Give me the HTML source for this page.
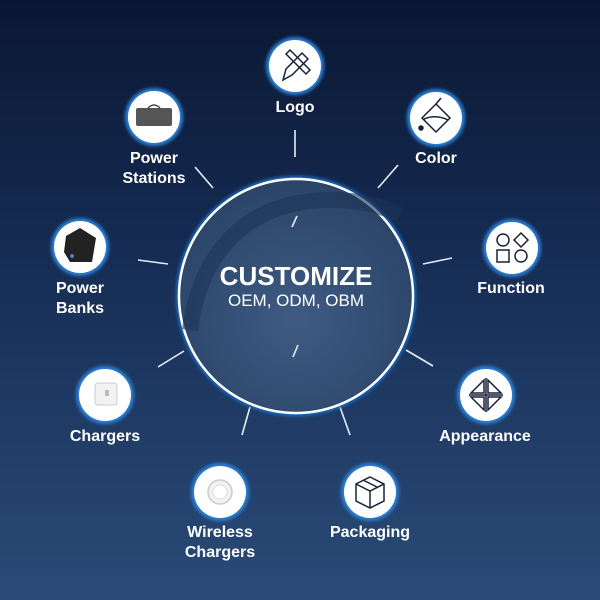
<!DOCTYPE html>
<html><head><meta charset="utf-8"><style>
html,body{margin:0;padding:0;width:600px;height:600px;overflow:hidden}
body{background:linear-gradient(180deg,#0a1733 0%,#152b52 40%,#2a4b78 100%)}
text{font-family:"Liberation Sans",sans-serif;fill:#fff}
</style></head><body>
<svg width="600" height="600" viewBox="0 0 600 600" xmlns="http://www.w3.org/2000/svg">
<defs>
<radialGradient id="cg" cx="50%" cy="60%" r="60%"><stop offset="0" stop-color="#3e5b82"/><stop offset="1" stop-color="#2b4468"/></radialGradient>
<filter id="gl" x="-30%" y="-30%" width="160%" height="160%"><feGaussianBlur stdDeviation="1.5"/></filter>
</defs>
<!-- ticks -->
<g stroke="#e8eef7" stroke-width="1.6">
<line x1="295" y1="130" x2="295" y2="157"/>
<line x1="378" y1="188" x2="398" y2="165"/>
<line x1="423" y1="264" x2="452" y2="258"/>
<line x1="406" y1="350" x2="433" y2="366"/>
<line x1="340" y1="407" x2="350" y2="435"/>
<line x1="250" y1="407" x2="242" y2="435"/>
<line x1="184" y1="351" x2="158" y2="367"/>
<line x1="138" y1="260" x2="168" y2="264"/>
<line x1="195" y1="167" x2="213" y2="188"/>
</g>
<!-- center circle -->
<circle cx="296" cy="296" r="120" fill="#1e6fc4" filter="url(#gl)"/>
<circle cx="296" cy="296" r="117" fill="url(#cg)" stroke="#fff" stroke-width="2.5"/>
<path d="M190 330 C200 250 250 200 330 200 C360 200 380 205 400 215" stroke="#1c3357" stroke-width="16" fill="none" opacity="0.6"/>
<g stroke="#e8eef7" stroke-width="1.6"><line x1="297" y1="216" x2="292" y2="227"/><line x1="298" y1="345" x2="293" y2="357"/></g>
<text x="296" y="285" text-anchor="middle" font-size="26" font-weight="bold">CUSTOMIZE</text>
<text x="296" y="306" text-anchor="middle" font-size="17">OEM, ODM, OBM</text>
<!-- icon circles -->
<g>
<g fill="#2a7fd6" filter="url(#gl)">
<circle cx="295" cy="66" r="29"/><circle cx="436" cy="118" r="29"/><circle cx="512" cy="248" r="29"/>
<circle cx="486" cy="395" r="29"/><circle cx="370" cy="492" r="29"/><circle cx="220" cy="492" r="29"/>
<circle cx="105" cy="395" r="29"/><circle cx="80" cy="247" r="29"/><circle cx="154" cy="117" r="29"/>
</g>
<g fill="#fff">
<circle cx="295" cy="66" r="26"/><circle cx="436" cy="118" r="26"/><circle cx="512" cy="248" r="26"/>
<circle cx="486" cy="395" r="26"/><circle cx="370" cy="492" r="26"/><circle cx="220" cy="492" r="26"/>
<circle cx="105" cy="395" r="26"/><circle cx="80" cy="247" r="26"/><circle cx="154" cy="117" r="26"/>
</g>
</g>
<!-- icons -->
<g stroke="#1a2238" stroke-width="1.5" fill="none">
<!-- logo -->
<path d="M283 80 L286 69 L302 53 L308 59 L292 75 Z"/><path d="M286 54 L290 50 L310 70 L306 74 Z"/>
<!-- color -->
<path d="M436 104 L450 118 L436 132 L422 118 Z"/><path d="M424 119 Q436 114 448 120"/><line x1="436" y1="104" x2="441" y2="98"/>
<circle cx="421" cy="128" r="2" fill="#1a2238"/>
<!-- function -->
<circle cx="503" cy="240" r="6"/><path d="M521 233 L528 240 L521 247 L514 240 Z"/><rect x="497" y="250" width="12" height="12"/><circle cx="521" cy="256" r="6"/>
<!-- appearance -->
<path d="M486 378 L486 412 M469 395 L503 395"/><path d="M484 380 L471 393 L484 393 Z M488 380 L501 393 L488 393 Z M484 410 L471 397 L484 397 Z M488 410 L501 397 L488 397 Z"/>
<!-- packaging -->
<path d="M370 477 L384 484 L384 501 L370 508 L356 501 L356 484 Z"/><path d="M356 484 L370 491 L384 484 M370 491 L370 508"/><path d="M363 480 L377 487"/>
</g>
<!-- product icons -->
<rect x="136" y="108" width="36" height="18" rx="2" fill="#555"/><path d="M148 108 Q154 102 160 108" stroke="#444" fill="none" stroke-width="1.5"/>
<path d="M66 236 L80 228 L96 238 L92 262 L70 262 L64 252 Z" fill="#222"/><circle cx="72" cy="256" r="2" fill="#4a7fd0"/>
<rect x="95" y="383" width="22" height="22" rx="3" fill="#f2f2f2" stroke="#ccc"/><rect x="105" y="390" width="4" height="6" fill="#bbb"/>
<circle cx="220" cy="492" r="12" fill="#f2f2f2" stroke="#ccc" stroke-width="1.5"/><circle cx="220" cy="492" r="7" fill="#fff" stroke="#ddd"/>
<!-- labels -->
<g font-size="16" font-weight="bold" text-anchor="middle">
<text x="295" y="112">Logo</text>
<text x="436" y="163">Color</text>
<text x="511" y="293">Function</text>
<text x="485" y="441">Appearance</text>
<text x="370" y="537">Packaging</text>
<text x="220" y="537">Wireless</text><text x="220" y="557">Chargers</text>
<text x="105" y="441">Chargers</text>
<text x="80" y="293">Power</text><text x="80" y="313">Banks</text>
<text x="154" y="163">Power</text><text x="154" y="183">Stations</text>
</g>
</svg>
</body></html>
